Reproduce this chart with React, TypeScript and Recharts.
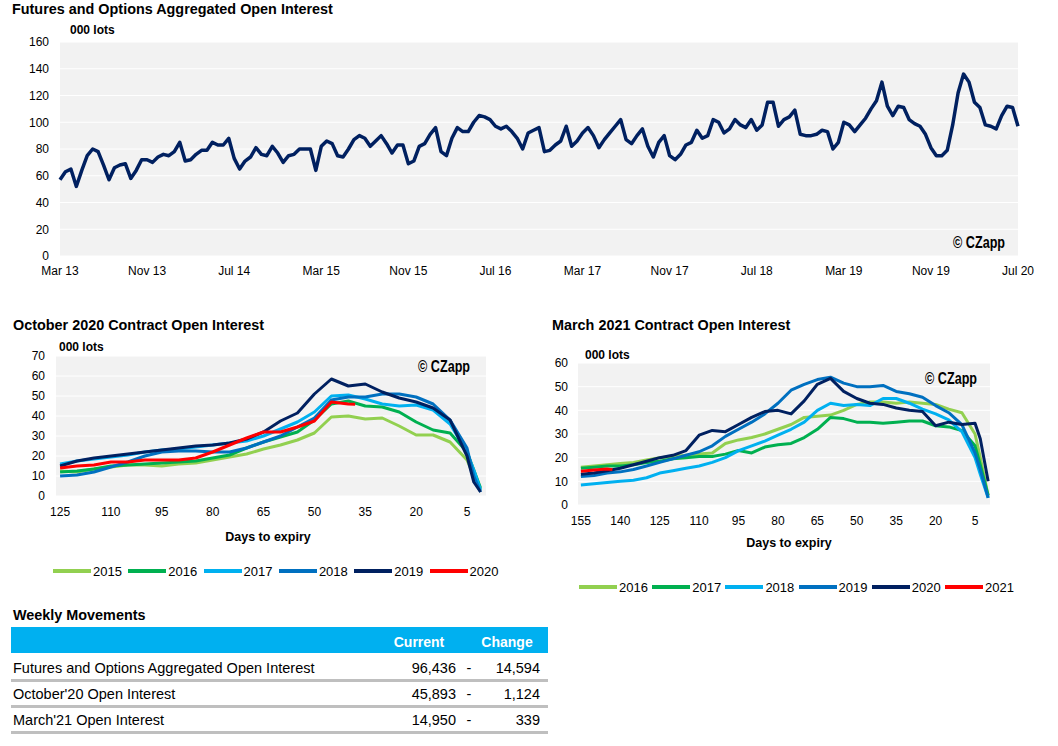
import React from 'react';
import { LineChart, Line, XAxis, YAxis, CartesianGrid } from 'recharts';

// Palette (Excel-style)
const NAVY = '#002060';
const BLUE = '#0070C0';
const LIGHT_BLUE = '#00B0F0';
const GREEN = '#00B050';
const LIGHT_GREEN = '#92D050';
const RED = '#FF0000';

const FONT = '"Liberation Sans", Arial, Helvetica, sans-serif';

// ---- Futures and options aggregated open interest (000 lots), half-monthly, Mar 13 -> Jul 20
const aggTickLabels = [
  'Mar 13', 'Nov 13', 'Jul 14', 'Mar 15', 'Nov 15', 'Jul 16',
  'Mar 17', 'Nov 17', 'Jul 18', 'Mar 19', 'Nov 19', 'Jul 20',
];
const aggOpenInterest = [
  57, 63, 65, 52, 64, 75, 80, 78, 68, 57, 66, 68, 69, 58, 64, 72,
  72, 70, 74, 76, 75, 78, 85, 71, 72, 76, 79, 79, 85, 83, 83, 88,
  73, 65, 71, 74, 81, 76, 75, 82, 77, 70, 75, 76, 80, 80, 80, 64,
  82, 86, 84, 75, 74, 80, 87, 90, 88, 82, 86, 90, 84, 77, 83, 83,
  69, 71, 82, 84, 91, 96, 78, 75, 88, 96, 93, 93, 100, 105, 104, 102,
  97, 95, 97, 93, 88, 80, 92, 94, 96, 78, 79, 83, 86, 97, 82, 86,
  92, 96, 90, 81, 87, 92, 97, 102, 87, 84, 90, 95, 82, 74, 85, 90,
  75, 72, 76, 83, 85, 94, 88, 90, 102, 100, 92, 95, 102, 98, 96, 102,
  94, 98, 115, 115, 97, 102, 104, 109, 91, 90, 90, 91, 94, 93, 80, 85,
  100, 98, 93, 98, 103, 110, 116, 130, 112, 105, 112, 111, 102, 99, 97, 91,
  81, 75, 75, 79, 98, 122, 136, 130, 115, 111, 98, 97, 95, 105, 112, 111,
  97,
];
const aggYTicks = [0, 20, 40, 60, 80, 100, 120, 140, 160];

// ---- October 2020 contract open interest (000 lots) by days to expiry
const octDays = [125, 120, 115, 110, 105, 100, 95, 90, 85, 80, 75, 70, 65, 60, 55, 50, 45, 40, 35, 30, 25, 20, 15, 10, 5, 3, 1];
const oct2015 = [12.5, 12, 13.5, 14.5, 15.5, 15.5, 15, 16, 16.5, 18, 19.5, 21, 23.5, 25.5, 28, 31.5, 39.5, 40, 38.5, 39, 35, 30.5, 30.5, 27, 18, 10, 3];
const oct2016 = [12, 12.5, 13.5, 15, 15.5, 16, 16.5, 17, 17.5, 19, 20.5, 24, 27, 29.5, 32, 38, 46, 47.5, 45, 44.5, 42, 37, 33, 31.5, 22, 13, 4];
const oct2017 = [16, 17.5, 18.5, 19.5, 20.5, 22, 23, 23.5, 24.5, 25.5, 26.5, 27.5, 30, 33.5, 37, 42, 50, 50.5, 48.5, 46, 45, 45.5, 43, 36, 22, 13, 3];
const oct2018 = [10, 10.5, 12, 14.5, 17, 20, 22, 22.5, 22.5, 22, 22, 24, 27, 30, 34.5, 39, 48, 49.5, 49.5, 51, 51, 49.5, 46, 38, 24, 10, 2];
const oct2019 = [15, 17.5, 19, 20, 21, 22, 23, 24, 25, 25.5, 26.5, 28.5, 32, 37.5, 41.5, 51, 58.5, 55, 56, 52, 49, 47, 44, 38, 20, 7, 2];
const oct2020Days = [125, 120, 115, 110, 105, 100, 95, 90, 85, 80, 75, 70, 65, 60, 55, 50, 45, 40, 38];
const oct2020 = [14, 15, 15.5, 17, 17, 18, 18, 18, 19, 22, 25.5, 29, 32, 32, 34.5, 37.5, 47, 46, 45.9];
const octXTicks = [125, 110, 95, 80, 65, 50, 35, 20, 5];
const octYTicks = [0, 10, 20, 30, 40, 50, 60, 70];

// ---- March 2021 contract open interest (000 lots) by days to expiry
const marDays = [155, 150, 145, 140, 135, 130, 125, 120, 115, 110, 105, 100, 95, 90, 85, 80, 75, 70, 65, 60, 55, 50, 45, 40, 35, 30, 25, 20, 15, 10, 5, 3, 0];
const mar2016 = [16, 16.5, 17, 17.5, 18, 19, 20, 20.5, 21, 21.5, 22, 26, 27.5, 28.5, 30, 32, 34, 37, 37.5, 38, 40, 42.5, 43.5, 43.5, 43, 43.5, 43, 42.5, 40.5, 39, 30, 20, 4];
const mar2017 = [15.5, 16, 16.5, 16.5, 17, 18, 18.5, 19.5, 20, 20.5, 20.5, 21.5, 23, 22, 24.5, 25.5, 26, 28.5, 32, 37, 36.5, 35, 35, 34.5, 35, 35.5, 35.5, 33.5, 33, 31.5, 25, 17, 4];
const mar2018 = [8.5, 9, 9.5, 10, 10.5, 11.5, 13.5, 14.5, 15.5, 16.5, 18, 20, 23, 25, 27, 29.5, 32, 35, 40, 43, 42, 42.5, 42, 45, 45, 43, 40.5, 38.5, 36, 31, 20, 13, 3];
const mar2019 = [12, 12.5, 13.5, 14, 15, 16.5, 18, 19.5, 21, 22.5, 25, 29, 32, 35, 38.5, 43, 48.5, 51, 53, 54, 51.5, 50, 50, 50.5, 48, 47, 45.5, 42, 39, 34, 22, 15, 3];
const mar2020 = [13, 13.5, 14.5, 15.5, 17, 18.5, 20, 21, 23, 29.5, 31.5, 31, 34, 37, 39.5, 40, 38.5, 44, 51, 53.5, 48, 45, 43, 42.5, 41, 40, 39.5, 33.5, 35, 34, 34.5, 28, 10];
const mar2021Days = [155, 150, 145, 143];
const mar2021 = [14.3, 14.8, 15.2, 14.95];
const marXTicks = [155, 140, 125, 110, 95, 80, 65, 50, 35, 20, 5];
const marYTicks = [0, 10, 20, 30, 40, 50, 60];

// ---- Weekly movements table
const tableLabels = [
  'Futures and Options Aggregated Open Interest',
  "October'20 Open Interest",
  "March'21 Open Interest",
];
const tableCurrent = ['96,436', '45,893', '14,950'];
const tableChange = ['14,594', '1,124', '339'];
const tableRowY = [669, 695, 721];

type Series = { name: string; color: string; values: number[]; days?: number[] };

const octSeries: Series[] = [
  { name: '2015', color: LIGHT_GREEN, values: oct2015 },
  { name: '2016', color: GREEN, values: oct2016 },
  { name: '2017', color: LIGHT_BLUE, values: oct2017 },
  { name: '2018', color: BLUE, values: oct2018 },
  { name: '2019', color: NAVY, values: oct2019 },
  { name: '2020', color: RED, values: oct2020, days: oct2020Days },
];

const marSeries: Series[] = [
  { name: '2016', color: LIGHT_GREEN, values: mar2016 },
  { name: '2017', color: GREEN, values: mar2017 },
  { name: '2018', color: LIGHT_BLUE, values: mar2018 },
  { name: '2019', color: BLUE, values: mar2019 },
  { name: '2020', color: NAVY, values: mar2020 },
  { name: '2021', color: RED, values: mar2021, days: mar2021Days },
];

/**
 * Absolutely placed text, vertically centred on y
 */
function Text({
  x,
  y,
  size = 12,
  bold = false,
  align = 'left',
  color = '#000',
  children,
}: {
  x: number;
  y: number;
  size?: number;
  bold?: boolean;
  align?: 'left' | 'center' | 'right';
  color?: string;
  children: React.ReactNode;
}) {
  const shift = align === 'center' ? 'translateX(-50%)' : align === 'right' ? 'translateX(-100%)' : 'none';
  return (
    <div
      style={{
        position: 'absolute',
        left: x,
        top: y - size * 0.6,
        lineHeight: `${size * 1.2}px`,
        fontSize: size,
        fontWeight: bold ? 700 : 400,
        fontFamily: FONT,
        color,
        whiteSpace: 'nowrap',
        transform: shift,
      }}
    >
      {children}
    </div>
  );
}

// condensed bold watermark, right edge at x
function Watermark({ x, y }: { x: number; y: number }) {
  return (
    <div
      style={{
        position: 'absolute',
        left: x,
        top: y - 10,
        lineHeight: '20px',
        fontSize: 17,
        fontWeight: 700,
        fontFamily: FONT,
        color: '#000',
        whiteSpace: 'nowrap',
        transform: 'translateX(-100%) scaleX(0.74)',
        transformOrigin: 'right center',
      }}
    >
      © CZapp
    </div>
  );
}

function Legend({ series, x, y, step }: { series: Series[]; x: number; y: number; step: number }) {
  return (
    <>
      {series.map((s, k) => (
        <div
          key={s.name}
          style={{ position: 'absolute', left: x + k * step, top: y - 8, height: 16, display: 'flex', alignItems: 'center' }}
        >
          <span style={{ display: 'inline-block', width: 38, height: 4, background: s.color, marginRight: 2 }} />
          <span style={{ fontSize: 13, fontFamily: FONT, color: '#000' }}>{s.name}</span>
        </div>
      ))}
    </>
  );
}

/**
 * Open interest by days to expiry, several contract years
 */
function ExpiryChart({
  left,
  top,
  width,
  height,
  margin,
  yAxisWidth,
  days,
  series,
  xDomain,
  xTicks,
  yTicks,
  yTickMargin,
}: {
  left: number;
  top: number;
  width: number;
  height: number;
  margin: { top: number; right: number; bottom: number; left: number };
  yAxisWidth: number;
  days: number[];
  series: Series[];
  xDomain: [number, number];
  xTicks: number[];
  yTicks: number[];
  yTickMargin: number;
}) {
  const rows = days.map((day, k) => {
    const row: Record<string, number> = { day };
    series.forEach((s) => {
      if (!s.days) row[s.name] = s.values[k];
    });
    return row;
  });

  return (
    <div style={{ position: 'absolute', left, top }}>
      <LineChart width={width} height={height} data={rows} margin={margin}>
        <CartesianGrid vertical={false} stroke="#ffffff" fill="#f2f2f2" />
        <XAxis
          dataKey="day"
          type="number"
          reversed
          domain={xDomain}
          allowDataOverflow
          ticks={xTicks}
          interval={0}
          axisLine={false}
          tickLine={false}
          tickMargin={5}
          height={30}
          tick={{ fontSize: 12, fill: '#000' }}
        />
        <YAxis
          type="number"
          domain={[yTicks[0], yTicks[yTicks.length - 1]]}
          ticks={yTicks}
          interval={0}
          axisLine={false}
          tickLine={false}
          tickMargin={yTickMargin}
          width={yAxisWidth}
          tick={{ fontSize: 12, fill: '#000' }}
        />
        {series.map((s) => (
          <Line
            key={s.name}
            data={s.days ? s.days.map((day, k) => ({ day, [s.name]: s.values[k] })) : undefined}
            type="linear"
            dataKey={s.name}
            stroke={s.color}
            strokeWidth={3}
            strokeLinejoin="round"
            dot={false}
            activeDot={false}
            isAnimationActive={false}
          />
        ))}
      </LineChart>
    </div>
  );
}

export default function App() {
  const aggData = aggOpenInterest.map((v, i) => ({ i, v }));
  const aggTicks = aggTickLabels.map((_, k) => k * 16);

  return (
    <div
      style={{
        position: 'absolute',
        left: 0,
        top: 0,
        width: 1058,
        height: 746,
        background: '#fff',
        fontFamily: FONT,
        overflow: 'hidden',
      }}
    >
      {/* Top: aggregated open interest */}
      <Text x={12} y={10} size={14.4} bold>
        Futures and Options Aggregated Open Interest
      </Text>
      <Text x={70} y={30} size={12} bold>
        000 lots
      </Text>
      <div style={{ position: 'absolute', left: 0, top: 0 }}>
        <LineChart width={1058} height={290} data={aggData} margin={{ top: 42, right: 40, bottom: 4, left: 10 }}>
          <CartesianGrid vertical={false} stroke="#ffffff" fill="#f2f2f2" />
          <XAxis
            dataKey="i"
            type="number"
            domain={[0, 176]}
            ticks={aggTicks}
            interval={0}
            tickFormatter={(v) => aggTickLabels[Math.round(Number(v) / 16)]}
            axisLine={false}
            tickLine={false}
            tickMargin={4}
            height={30}
            tick={{ fontSize: 12, fill: '#000' }}
          />
          <YAxis
            type="number"
            domain={[0, 160]}
            ticks={aggYTicks}
            interval={0}
            axisLine={false}
            tickLine={false}
            tickMargin={5}
            width={50}
            tick={{ fontSize: 12, fill: '#000' }}
          />
          <Line
            type="linear"
            dataKey="v"
            stroke={NAVY}
            strokeWidth={3.5}
            strokeLinejoin="round"
            dot={false}
            activeDot={false}
            isAnimationActive={false}
          />
        </LineChart>
      </div>
      <Watermark x={1005} y={243} />

      {/* Bottom left: October 2020 contract */}
      <Text x={13} y={326} size={14.4} bold>
        October 2020 Contract Open Interest
      </Text>
      <Text x={59} y={347} size={12} bold>
        000 lots
      </Text>
      <ExpiryChart
        left={0}
        top={340}
        width={520}
        height={200}
        margin={{ top: 16, right: 34, bottom: 14, left: 10 }}
        yAxisWidth={46}
        days={octDays}
        series={octSeries}
        xDomain={[-0.6, 126.2]}
        xTicks={octXTicks}
        yTicks={octYTicks}
        yTickMargin={5}
      />
      <Watermark x={470} y={367} />
      <Text x={268} y={537} size={12.5} bold align="center">
        Days to expiry
      </Text>
      <Legend series={octSeries} x={53} y={571} step={75.3} />

      {/* Bottom right: March 2021 contract */}
      <Text x={552} y={326} size={14.4} bold>
        March 2021 Contract Open Interest
      </Text>
      <Text x={585} y={355} size={12} bold>
        000 lots
      </Text>
      <ExpiryChart
        left={530}
        top={340}
        width={500}
        height={200}
        margin={{ top: 23, right: 40, bottom: 5, left: 8 }}
        yAxisWidth={40}
        days={marDays}
        series={marSeries}
        xDomain={[-0.7, 156.1]}
        xTicks={marXTicks}
        yTicks={marYTicks}
        yTickMargin={4}
      />
      <Watermark x={977} y={379} />
      <Text x={789} y={543} size={12.5} bold align="center">
        Days to expiry
      </Text>
      <Legend series={marSeries} x={579} y={587} step={73.2} />

      {/* Weekly movements table */}
      <Text x={13} y={616} size={14.4} bold>
        Weekly Movements
      </Text>
      <div style={{ position: 'absolute', left: 11, top: 627, width: 537, height: 26, background: '#00B0F0' }} />
      <Text x={419} y={642} size={14} bold align="center" color="#fff">
        Current
      </Text>
      <Text x={507} y={642} size={14} bold align="center" color="#fff">
        Change
      </Text>
      {tableLabels.map((label, k) => {
        const cy = tableRowY[k];
        return (
          <React.Fragment key={label}>
            <Text x={13} y={cy} size={14.5}>
              {label}
            </Text>
            <Text x={456} y={cy} size={14.5} align="right">
              {tableCurrent[k]}
            </Text>
            <Text x={469} y={cy} size={14.5} align="center">
              -
            </Text>
            <Text x={540} y={cy} size={14.5} align="right">
              {tableChange[k]}
            </Text>
            <div
              style={{ position: 'absolute', left: 11, top: cy + 10, width: 537, height: 3, background: '#bfbfbf' }}
            />
          </React.Fragment>
        );
      })}
    </div>
  );
}
